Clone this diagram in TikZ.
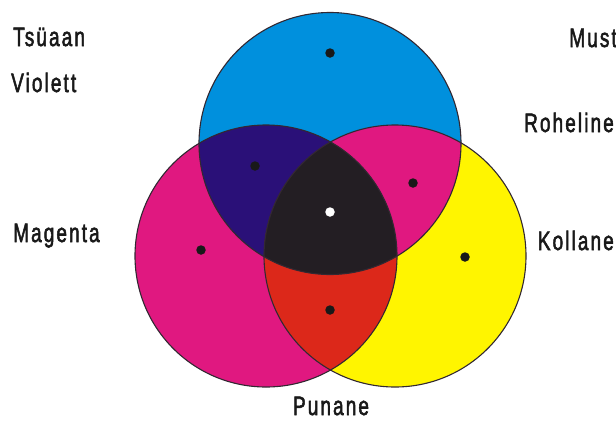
\documentclass[tikz,border=0pt]{standalone}
\usepackage{fontspec}
\setmainfont{Liberation Sans}[LetterSpace=11, FakeBold=2.5]
\definecolor{cyanC}{RGB}{0,144,221}
\definecolor{magC}{RGB}{224,24,128}
\definecolor{yelC}{RGB}{255,245,0}
\definecolor{violC}{RGB}{42,16,120}
\definecolor{redC}{RGB}{220,40,26}
\definecolor{blackC}{RGB}{35,30,35}
\definecolor{lineC}{RGB}{50,40,50}
\tikzset{
  ring/.style={draw=lineC, line width=1.1pt},
  spot/.style={circle, fill=black!90, inner sep=0pt, minimum size=9.5pt},
  wspot/.style={circle, fill=white, inner sep=0pt, minimum size=9.5pt},
  lbl/.style={inner sep=0pt, text=black!90, font=\fontsize{19}{22}\selectfont}
}
\newcommand{\tall}[1]{\scalebox{1}[1.4]{#1}}
\begin{document}
\begin{tikzpicture}[x=1pt,y=-1pt]
\useasboundingbox (0,0) rectangle (616,421);
\coordinate (C) at (330,143.5);
\coordinate (M) at (266,256);
\coordinate (Y) at (395,256);
\def\R{131pt}
% base circles
\fill[cyanC] (C) circle[radius=\R];
\fill[magC] (M) circle[radius=\R];
\fill[yelC] (Y) circle[radius=\R];
% pairwise overlaps
\begin{scope}
  \clip (C) circle[radius=\R];
  \fill[violC] (M) circle[radius=\R];
  \fill[magC] (Y) circle[radius=\R];
\end{scope}
\begin{scope}
  \clip (M) circle[radius=\R];
  \fill[redC] (Y) circle[radius=\R];
\end{scope}
\begin{scope}
  \clip (C) circle[radius=\R];
  \clip (M) circle[radius=\R];
  \fill[blackC] (Y) circle[radius=\R];
\end{scope}
% outlines
\draw[ring] (C) circle[radius=\R];
\draw[ring] (M) circle[radius=\R];
\draw[ring] (Y) circle[radius=\R];
% dots
\node[spot] (dC) at (330,53) {};
\node[spot] (dV) at (255,166) {};
\node[spot] (dG) at (413,183) {};
\node[wspot] (dK) at (330,212) {};
\node[spot] (dM) at (201,250) {};
\node[spot] (dY) at (465,257) {};
\node[spot] (dR) at (330,310) {};
% labels
\node[lbl, anchor=base west] (tsuaan) at (13,46) {\tall{Tsüaan}};
\node[lbl, anchor=base west] (violett) at (11,92) {\tall{Violett}};
\node[lbl, anchor=base west] (magenta) at (13,242) {\tall{Magenta}};
\node[lbl, anchor=base east] (must) at (617,47) {\tall{Must}};
\node[lbl, anchor=base east] (roheline) at (614,132) {\tall{Roheline}};
\node[lbl, anchor=base east] (kollane) at (614,250) {\tall{Kollane}};
\node[lbl, anchor=base] (punane) at (331,415) {\tall{Punane}};
\end{tikzpicture}
\end{document}
